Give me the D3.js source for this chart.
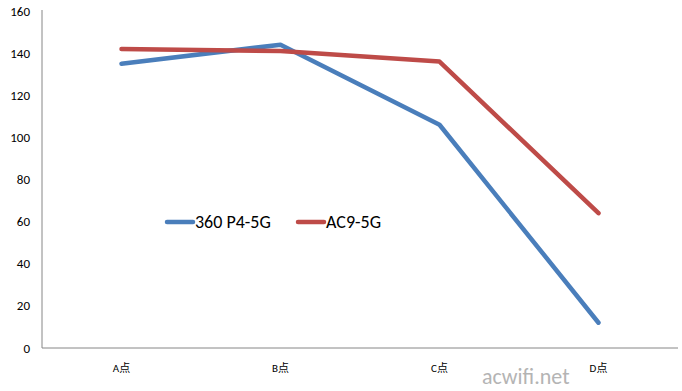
<!DOCTYPE html>
<html>
<head>
<meta charset="utf-8">
<script src="https://cdn.jsdelivr.net/npm/d3@7"></script>
<style>
  body { margin: 0; background: #fff; }
  text { font-family: Calibri, Carlito, "Liberation Sans", "Noto Sans CJK SC", sans-serif; }
</style>
</head>
<body>
<svg id="chart" width="682" height="391"></svg>
<script>
const categories = ['A点', 'B点', 'C点', 'D点'];
const seriesNames = ['360 P4-5G', 'AC9-5G'];
const p4Values = [135, 144, 106, 12];
const ac9Values = [142, 141, 136, 64];
const yTicks = [0, 20, 40, 60, 80, 100, 120, 140, 160];
const colors = ['#4a7ebb', '#be4b48'];

const svg = d3.select('#chart');
const plotLeft = 42, plotRight = 678, plotTop = 11, plotBottom = 348;

const x = d3.scaleBand().domain(categories).range([plotLeft, plotRight]);
const y = d3.scaleLinear().domain([0, 160]).range([plotBottom, plotTop]);

// axes
svg.append('line')
  .attr('x1', plotLeft).attr('x2', plotLeft)
  .attr('y1', plotTop - 1).attr('y2', plotBottom)
  .attr('stroke', '#868686').attr('stroke-width', 1);
svg.append('line')
  .attr('x1', plotLeft).attr('x2', plotRight)
  .attr('y1', plotBottom).attr('y2', plotBottom)
  .attr('stroke', '#868686').attr('stroke-width', 1);

svg.append('g')
  .selectAll('text')
  .data(yTicks)
  .join('text')
  .attr('x', 30)
  .attr('y', (d) => y(d))
  .attr('dy', '0.35em')
  .attr('text-anchor', 'end')
  .attr('font-size', '13px')
  .attr('fill', '#000')
  .text((d) => d);

svg.append('g')
  .selectAll('text')
  .data(categories)
  .join('text')
  .attr('x', (d) => x(d) + x.bandwidth() / 2)
  .attr('y', 372)
  .attr('text-anchor', 'middle')
  .attr('font-size', '11px')
  .attr('fill', '#000')
  .text((d) => d);

// lines
const line = d3.line()
  .x((d, i) => x(categories[i]) + x.bandwidth() / 2)
  .y((d) => y(d));

[p4Values, ac9Values].forEach((vals, i) => {
  svg.append('path')
    .datum(vals)
    .attr('d', line)
    .attr('fill', 'none')
    .attr('stroke', colors[i])
    .attr('stroke-width', 4.5)
    .attr('stroke-linecap', 'round')
    .attr('stroke-linejoin', 'round');
});

// legend
const legendX = [167, 298];
seriesNames.forEach((name, i) => {
  svg.append('line')
    .attr('x1', legendX[i]).attr('x2', legendX[i] + 26)
    .attr('y1', 222).attr('y2', 222)
    .attr('stroke', colors[i])
    .attr('stroke-width', 4.5)
    .attr('stroke-linecap', 'round');
  svg.append('text')
    .attr('x', legendX[i] + 28)
    .attr('y', 228)
    .attr('font-size', '18px')
    .attr('fill', '#000')
    .text(name);
});

// watermark
svg.append('text')
  .attr('x', 482)
  .attr('y', 384)
  .attr('font-size', '22px')
  .attr('fill', '#b4b4b4')
  .attr('font-family', '"Liberation Sans", sans-serif')
  .text('acwifi.net');
</script>
</body>
</html>
